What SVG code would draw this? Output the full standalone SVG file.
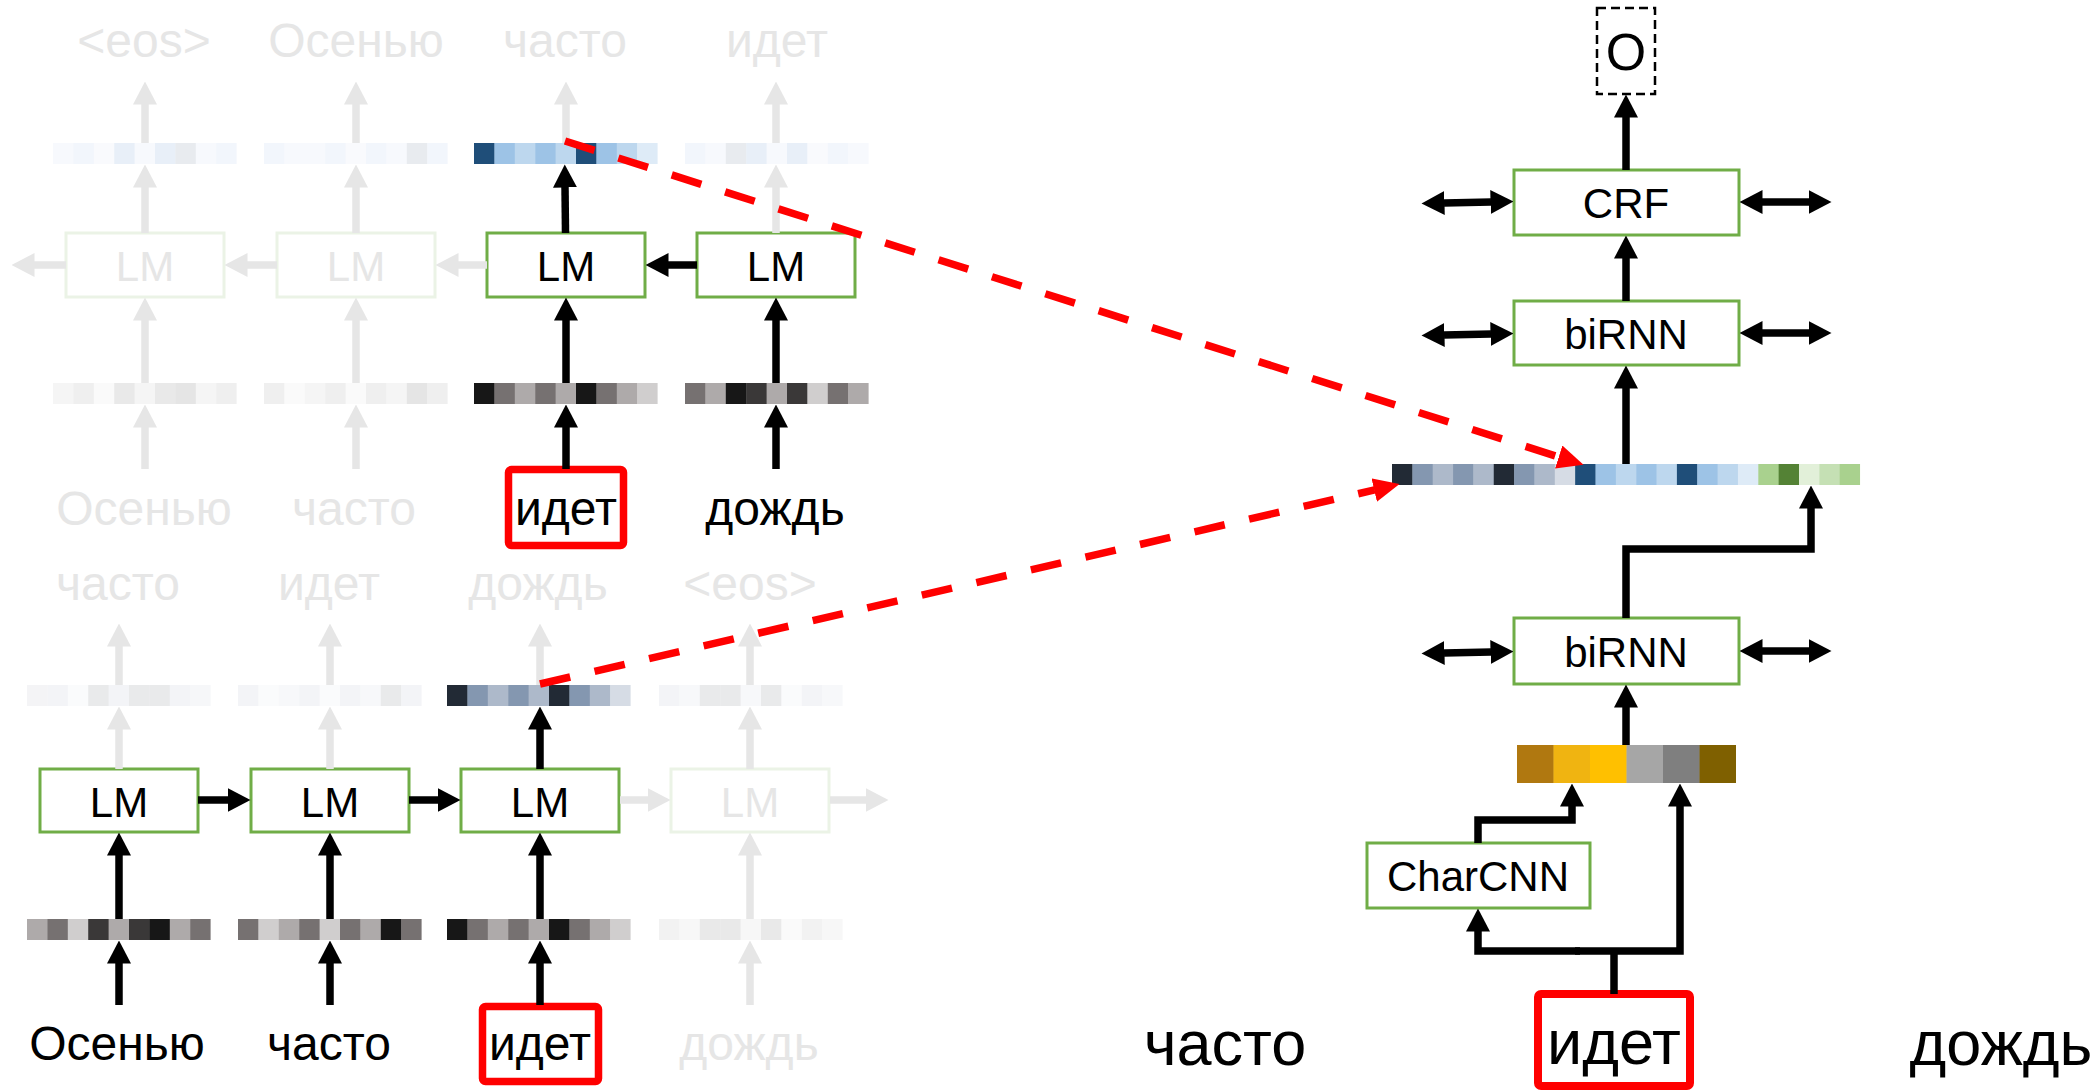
<svg xmlns="http://www.w3.org/2000/svg" width="2100" height="1092" viewBox="0 0 2100 1092">
<style>
text{font-family:"Liberation Sans",Arial,sans-serif;text-anchor:middle}
.lbl{font-size:42px;fill:#000}
.flbl{font-size:42px;fill:#e6e6e6}
.w{font-size:48px;fill:#000}
.fw{font-size:48px;fill:#e6e6e6}
.bw{font-size:63px;fill:#000}
.box{fill:#fff;stroke:#70ad47;stroke-width:3}
.fbox{fill:#fff;stroke:#ebf3e6;stroke-width:3}
.rbox{fill:none;stroke:#ff0000;stroke-width:7.5}
.arr{fill:none;stroke:#000;stroke-width:7.5;marker-end:url(#ah)}
.farr{fill:none;stroke:#e6e6e6;stroke-width:7.5;marker-end:url(#fah)}
.dbl{fill:none;stroke:#000;stroke-width:7.5;marker-start:url(#ah);marker-end:url(#ah)}
.ln{fill:none;stroke:#000;stroke-width:7.5;stroke-linejoin:miter}
.red{fill:none;stroke:#ff0000;stroke-width:7.5;stroke-dasharray:31 25;marker-end:url(#rah)}
</style>
<defs>
<marker id="ah" markerUnits="userSpaceOnUse" markerWidth="23" markerHeight="24" viewBox="0 0 23 24" refX="0.5" refY="12" orient="auto-start-reverse"><path d="M0,0 L23,12 L0,24 z" fill="#000"/></marker>
<marker id="fah" markerUnits="userSpaceOnUse" markerWidth="23" markerHeight="24" viewBox="0 0 23 24" refX="0.5" refY="12" orient="auto"><path d="M0,0 L23,12 L0,24 z" fill="#e6e6e6"/></marker>
<marker id="rah" markerUnits="userSpaceOnUse" markerWidth="26" markerHeight="24" viewBox="0 0 26 24" refX="0.5" refY="12" orient="auto"><path d="M0,0 L26,12 L0,24 z" fill="#ff0000"/></marker>
</defs>
<rect width="2100" height="1092" fill="#fff"/>

<!-- ===== Top section (backward LM) ===== -->
<g id="top-words-out">
<text class="fw" x="144" y="57">&lt;eos&gt;</text>
<text class="fw" x="356" y="57">Осенью</text>
<text class="fw" x="565" y="57">часто</text>
<text class="fw" x="777" y="57">идет</text>
</g>
<g id="top-vec-h1" transform="translate(53,143)">
<rect x="0" width="20.8" height="21" fill="#f7f9fd"/><rect x="20.4" width="20.8" height="21" fill="#f2f6fc"/><rect x="40.8" width="20.8" height="21" fill="#f9fafd"/><rect x="61.2" width="20.8" height="21" fill="#e8eff8"/><rect x="81.6" width="20.8" height="21" fill="#f7f9fd"/><rect x="102" width="20.8" height="21" fill="#e8eff8"/><rect x="122.4" width="20.8" height="21" fill="#e8ebef"/><rect x="142.8" width="20.8" height="21" fill="#f7f9fd"/><rect x="163.2" width="20.4" height="21" fill="#f2f6fc"/>
</g>
<g id="top-vec-h2" transform="translate(264,143)">
<rect x="0" width="20.8" height="21" fill="#f2f6fc"/><rect x="20.4" width="20.8" height="21" fill="#f7f9fd"/><rect x="40.8" width="20.8" height="21" fill="#f7f9fd"/><rect x="61.2" width="20.8" height="21" fill="#f2f6fc"/><rect x="81.6" width="20.8" height="21" fill="#f9fafd"/><rect x="102" width="20.8" height="21" fill="#f2f6fc"/><rect x="122.4" width="20.8" height="21" fill="#f7f9fd"/><rect x="142.8" width="20.8" height="21" fill="#e8ebef"/><rect x="163.2" width="20.4" height="21" fill="#f2f6fc"/>
</g>
<g id="top-vec-h3" transform="translate(474,143)">
<rect x="0" width="20.8" height="21" fill="#1f4e79"/><rect x="20.4" width="20.8" height="21" fill="#9dc3e6"/><rect x="40.8" width="20.8" height="21" fill="#bdd7ee"/><rect x="61.2" width="20.8" height="21" fill="#9dc3e6"/><rect x="81.6" width="20.8" height="21" fill="#bdd7ee"/><rect x="102" width="20.8" height="21" fill="#1f4e79"/><rect x="122.4" width="20.8" height="21" fill="#9dc3e6"/><rect x="142.8" width="20.8" height="21" fill="#bdd7ee"/><rect x="163.2" width="20.4" height="21" fill="#deebf7"/>
</g>
<g id="top-vec-h4" transform="translate(685,143)">
<rect x="0" width="20.8" height="21" fill="#f2f6fc"/><rect x="20.4" width="20.8" height="21" fill="#f7f9fd"/><rect x="40.8" width="20.8" height="21" fill="#e8ebef"/><rect x="61.2" width="20.8" height="21" fill="#e8eff8"/><rect x="81.6" width="20.8" height="21" fill="#f7f9fd"/><rect x="102" width="20.8" height="21" fill="#e8eff8"/><rect x="122.4" width="20.8" height="21" fill="#f9fafd"/><rect x="142.8" width="20.8" height="21" fill="#f2f6fc"/><rect x="163.2" width="20.4" height="21" fill="#f7f9fd"/>
</g>
<g id="top-lm1"><rect class="fbox" x="66" y="233" width="158" height="64"/><text class="flbl" x="145" y="281">LM</text></g>
<g id="top-lm2"><rect class="fbox" x="277" y="233" width="158" height="64"/><text class="flbl" x="356" y="281">LM</text></g>
<g id="top-lm3"><rect class="box" x="487" y="233" width="158" height="64"/><text class="lbl" x="566" y="281">LM</text></g>
<g id="top-lm4"><rect class="box" x="697" y="233" width="158" height="64"/><text class="lbl" x="776" y="281">LM</text></g>
<g id="top-vec-e1" transform="translate(53,383)">
<rect x="0" width="20.8" height="21" fill="#f5f5f5"/><rect x="20.4" width="20.8" height="21" fill="#efefef"/><rect x="40.8" width="20.8" height="21" fill="#fafafa"/><rect x="61.2" width="20.8" height="21" fill="#e9e9e9"/><rect x="81.6" width="20.8" height="21" fill="#f5f5f5"/><rect x="102" width="20.8" height="21" fill="#e9e9e9"/><rect x="122.4" width="20.8" height="21" fill="#e5e5e5"/><rect x="142.8" width="20.8" height="21" fill="#f5f5f5"/><rect x="163.2" width="20.4" height="21" fill="#efefef"/>
</g>
<g id="top-vec-e2" transform="translate(264,383)">
<rect x="0" width="20.8" height="21" fill="#efefef"/><rect x="20.4" width="20.8" height="21" fill="#fafafa"/><rect x="40.8" width="20.8" height="21" fill="#f5f5f5"/><rect x="61.2" width="20.8" height="21" fill="#efefef"/><rect x="81.6" width="20.8" height="21" fill="#fafafa"/><rect x="102" width="20.8" height="21" fill="#efefef"/><rect x="122.4" width="20.8" height="21" fill="#f5f5f5"/><rect x="142.8" width="20.8" height="21" fill="#e5e5e5"/><rect x="163.2" width="20.4" height="21" fill="#efefef"/>
</g>
<g id="top-vec-e3" transform="translate(474,383)">
<rect x="0" width="20.8" height="21" fill="#171717"/><rect x="20.4" width="20.8" height="21" fill="#767171"/><rect x="40.8" width="20.8" height="21" fill="#aeaaaa"/><rect x="61.2" width="20.8" height="21" fill="#767171"/><rect x="81.6" width="20.8" height="21" fill="#aeaaaa"/><rect x="102" width="20.8" height="21" fill="#171717"/><rect x="122.4" width="20.8" height="21" fill="#767171"/><rect x="142.8" width="20.8" height="21" fill="#aeaaaa"/><rect x="163.2" width="20.4" height="21" fill="#d0cece"/>
</g>
<g id="top-vec-e4" transform="translate(685,383)">
<rect x="0" width="20.8" height="21" fill="#767171"/><rect x="20.4" width="20.8" height="21" fill="#aeaaaa"/><rect x="40.8" width="20.8" height="21" fill="#171717"/><rect x="61.2" width="20.8" height="21" fill="#3a3838"/><rect x="81.6" width="20.8" height="21" fill="#aeaaaa"/><rect x="102" width="20.8" height="21" fill="#3a3838"/><rect x="122.4" width="20.8" height="21" fill="#d0cece"/><rect x="142.8" width="20.8" height="21" fill="#767171"/><rect x="163.2" width="20.4" height="21" fill="#aeaaaa"/>
</g>
<g id="top-words-in">
<text class="fw" x="144" y="525">Осенью</text>
<text class="fw" x="354" y="525">часто</text>
<rect class="rbox" x="508.5" y="469.5" width="115" height="76" rx="3"/>
<text class="w" x="566" y="525">идет</text>
<text class="w" x="775" y="525">дождь</text>
</g>

<!-- ===== Bottom section (forward LM) ===== -->
<g id="bot-words-out">
<text class="fw" x="118" y="600">часто</text>
<text class="fw" x="329" y="600">идет</text>
<text class="fw" x="538" y="600">дождь</text>
<text class="fw" x="750" y="600">&lt;eos&gt;</text>
</g>
<g id="bot-vec-h1" transform="translate(27,685)">
<rect x="0" width="20.8" height="21" fill="#f4f4f6"/><rect x="20.4" width="20.8" height="21" fill="#f3f4f7"/><rect x="40.8" width="20.8" height="21" fill="#fafbfc"/><rect x="61.2" width="20.8" height="21" fill="#e9eaeb"/><rect x="81.6" width="20.8" height="21" fill="#f3f4f7"/><rect x="102" width="20.8" height="21" fill="#e9eaeb"/><rect x="122.4" width="20.8" height="21" fill="#e9eaeb"/><rect x="142.8" width="20.8" height="21" fill="#f3f4f7"/><rect x="163.2" width="20.4" height="21" fill="#f6f7f9"/>
</g>
<g id="bot-vec-h2" transform="translate(238,685)">
<rect x="0" width="20.8" height="21" fill="#f3f4f7"/><rect x="20.4" width="20.8" height="21" fill="#fafbfc"/><rect x="40.8" width="20.8" height="21" fill="#f7f8fa"/><rect x="61.2" width="20.8" height="21" fill="#f3f4f7"/><rect x="81.6" width="20.8" height="21" fill="#fafbfc"/><rect x="102" width="20.8" height="21" fill="#f3f4f7"/><rect x="122.4" width="20.8" height="21" fill="#f7f8fa"/><rect x="142.8" width="20.8" height="21" fill="#e9eaeb"/><rect x="163.2" width="20.4" height="21" fill="#f3f4f7"/>
</g>
<g id="bot-vec-h3" transform="translate(447,685)">
<rect x="0" width="20.8" height="21" fill="#222a35"/><rect x="20.4" width="20.8" height="21" fill="#8497b0"/><rect x="40.8" width="20.8" height="21" fill="#adb9ca"/><rect x="61.2" width="20.8" height="21" fill="#8497b0"/><rect x="81.6" width="20.8" height="21" fill="#adb9ca"/><rect x="102" width="20.8" height="21" fill="#222a35"/><rect x="122.4" width="20.8" height="21" fill="#8497b0"/><rect x="142.8" width="20.8" height="21" fill="#adb9ca"/><rect x="163.2" width="20.4" height="21" fill="#d6dce5"/>
</g>
<g id="bot-vec-h4" transform="translate(659,685)">
<rect x="0" width="20.8" height="21" fill="#f3f4f7"/><rect x="20.4" width="20.8" height="21" fill="#f7f8fa"/><rect x="40.8" width="20.8" height="21" fill="#e9eaeb"/><rect x="61.2" width="20.8" height="21" fill="#e9eaeb"/><rect x="81.6" width="20.8" height="21" fill="#f7f8fa"/><rect x="102" width="20.8" height="21" fill="#e9eaeb"/><rect x="122.4" width="20.8" height="21" fill="#fafbfc"/><rect x="142.8" width="20.8" height="21" fill="#f3f4f7"/><rect x="163.2" width="20.4" height="21" fill="#f7f8fa"/>
</g>
<g id="bot-lm1"><rect class="box" x="40" y="769" width="158" height="63"/><text class="lbl" x="119" y="817">LM</text></g>
<g id="bot-lm2"><rect class="box" x="251" y="769" width="158" height="63"/><text class="lbl" x="330" y="817">LM</text></g>
<g id="bot-lm3"><rect class="box" x="461" y="769" width="158" height="63"/><text class="lbl" x="540" y="817">LM</text></g>
<g id="bot-lm4"><rect class="fbox" x="671" y="769" width="158" height="63"/><text class="flbl" x="750" y="817">LM</text></g>
<g id="bot-vec-e1" transform="translate(27,919)">
<rect x="0" width="20.8" height="21" fill="#aeaaaa"/><rect x="20.4" width="20.8" height="21" fill="#767171"/><rect x="40.8" width="20.8" height="21" fill="#d0cece"/><rect x="61.2" width="20.8" height="21" fill="#3a3838"/><rect x="81.6" width="20.8" height="21" fill="#aeaaaa"/><rect x="102" width="20.8" height="21" fill="#3a3838"/><rect x="122.4" width="20.8" height="21" fill="#171717"/><rect x="142.8" width="20.8" height="21" fill="#aeaaaa"/><rect x="163.2" width="20.4" height="21" fill="#767171"/>
</g>
<g id="bot-vec-e2" transform="translate(238,919)">
<rect x="0" width="20.8" height="21" fill="#767171"/><rect x="20.4" width="20.8" height="21" fill="#d0cece"/><rect x="40.8" width="20.8" height="21" fill="#aeaaaa"/><rect x="61.2" width="20.8" height="21" fill="#767171"/><rect x="81.6" width="20.8" height="21" fill="#d0cece"/><rect x="102" width="20.8" height="21" fill="#767171"/><rect x="122.4" width="20.8" height="21" fill="#aeaaaa"/><rect x="142.8" width="20.8" height="21" fill="#171717"/><rect x="163.2" width="20.4" height="21" fill="#767171"/>
</g>
<g id="bot-vec-e3" transform="translate(447,919)">
<rect x="0" width="20.8" height="21" fill="#171717"/><rect x="20.4" width="20.8" height="21" fill="#767171"/><rect x="40.8" width="20.8" height="21" fill="#aeaaaa"/><rect x="61.2" width="20.8" height="21" fill="#767171"/><rect x="81.6" width="20.8" height="21" fill="#aeaaaa"/><rect x="102" width="20.8" height="21" fill="#171717"/><rect x="122.4" width="20.8" height="21" fill="#767171"/><rect x="142.8" width="20.8" height="21" fill="#aeaaaa"/><rect x="163.2" width="20.4" height="21" fill="#d0cece"/>
</g>
<g id="bot-vec-e4" transform="translate(659,919)">
<rect x="0" width="20.8" height="21" fill="#f2f2f2"/><rect x="20.4" width="20.8" height="21" fill="#f7f7f7"/><rect x="40.8" width="20.8" height="21" fill="#e9e9e9"/><rect x="61.2" width="20.8" height="21" fill="#e9e9e9"/><rect x="81.6" width="20.8" height="21" fill="#f7f7f7"/><rect x="102" width="20.8" height="21" fill="#e9e9e9"/><rect x="122.4" width="20.8" height="21" fill="#fafafa"/><rect x="142.8" width="20.8" height="21" fill="#f2f2f2"/><rect x="163.2" width="20.4" height="21" fill="#f7f7f7"/>
</g>
<g id="bot-words-in">
<text class="w" x="117" y="1060">Осенью</text>
<text class="w" x="329" y="1060">часто</text>
<rect class="rbox" x="482.5" y="1006.5" width="116" height="75" rx="3"/>
<text class="w" x="540" y="1060">идет</text>
<text class="fw" x="749" y="1060">дождь</text>
</g>

<!-- ===== Right section (tagger) ===== -->
<g id="out-O"><rect x="1597" y="8" width="58" height="86" fill="none" stroke="#000" stroke-width="2.5" stroke-dasharray="9 5"/><text x="1626" y="70" style="font-size:52px">O</text></g>
<g id="crf"><rect class="box" x="1514" y="170" width="225" height="65"/><text class="lbl" x="1626" y="218">CRF</text></g>
<g id="birnn2"><rect class="box" x="1514" y="301" width="225" height="64"/><text class="lbl" x="1626" y="349">biRNN</text></g>
<g id="concat-vec" transform="translate(1392,464)">
<rect x="0" width="20.75" height="21" fill="#222a35"/><rect x="20.35" width="20.75" height="21" fill="#8497b0"/><rect x="40.7" width="20.75" height="21" fill="#adb9ca"/><rect x="61.05" width="20.75" height="21" fill="#8497b0"/><rect x="81.4" width="20.75" height="21" fill="#adb9ca"/><rect x="101.75" width="20.75" height="21" fill="#222a35"/><rect x="122.1" width="20.75" height="21" fill="#8497b0"/><rect x="142.45" width="20.75" height="21" fill="#adb9ca"/><rect x="162.8" width="20.75" height="21" fill="#d6dce5"/><rect x="183.15" width="20.75" height="21" fill="#1f4e79"/><rect x="203.5" width="20.75" height="21" fill="#9dc3e6"/><rect x="223.85" width="20.75" height="21" fill="#bdd7ee"/><rect x="244.2" width="20.75" height="21" fill="#9dc3e6"/><rect x="264.55" width="20.75" height="21" fill="#bdd7ee"/><rect x="284.9" width="20.75" height="21" fill="#1f4e79"/><rect x="305.25" width="20.75" height="21" fill="#9dc3e6"/><rect x="325.6" width="20.75" height="21" fill="#bdd7ee"/><rect x="345.95" width="20.75" height="21" fill="#deebf7"/><rect x="366.3" width="20.75" height="21" fill="#a9d18e"/><rect x="386.65" width="20.75" height="21" fill="#548235"/><rect x="407" width="20.75" height="21" fill="#e2f0d9"/><rect x="427.35" width="20.75" height="21" fill="#c5e0b4"/><rect x="447.7" width="20.35" height="21" fill="#a9d18e"/>
</g>
<g id="birnn1"><rect class="box" x="1514" y="618" width="225" height="66"/><text class="lbl" x="1626" y="667">biRNN</text></g>
<g id="word-vec" transform="translate(1517,745)">
<rect x="0" width="36.9" height="38" fill="#b07810"/><rect x="36.5" width="36.9" height="38" fill="#f0b411"/><rect x="73" width="36.9" height="38" fill="#ffc000"/><rect x="109.5" width="36.9" height="38" fill="#a6a6a6"/><rect x="146" width="36.9" height="38" fill="#7f7f7f"/><rect x="182.5" width="36.5" height="38" fill="#7f6000"/>
</g>
<g id="charcnn"><rect class="box" x="1367" y="843" width="223" height="65"/><text class="lbl" x="1478" y="891">CharCNN</text></g>
<g id="right-words">
<text class="bw" x="1225" y="1065">часто</text>
<rect x="1538" y="994" width="152" height="92" rx="3" fill="none" stroke="#ff0000" stroke-width="8"/>
<text class="bw" x="1614" y="1064">идет</text>
<text class="bw" x="2001" y="1065">дождь</text>
</g>

<!-- ===== Connectors ===== -->
<g id="connectors">
<!-- top section verticals -->
<line class="farr" x1="145" y1="143" x2="145" y2="104"/>
<line class="farr" x1="356" y1="143" x2="356" y2="104"/>
<line class="farr" x1="566" y1="143" x2="566" y2="104"/>
<line class="farr" x1="776" y1="143" x2="776" y2="104"/>
<line class="farr" x1="145" y1="233" x2="145" y2="187"/>
<line class="farr" x1="356" y1="233" x2="356" y2="187"/>
<line class="arr" x1="565.5" y1="233" x2="565" y2="187"/>
<line class="farr" x1="776" y1="233" x2="776" y2="187"/>
<line class="farr" x1="145" y1="383" x2="145" y2="320"/>
<line class="farr" x1="356" y1="383" x2="356" y2="320"/>
<line class="arr" x1="566" y1="383" x2="566" y2="320"/>
<line class="arr" x1="776" y1="383" x2="776" y2="320"/>
<line class="farr" x1="145" y1="469" x2="145" y2="427"/>
<line class="farr" x1="356" y1="469" x2="356" y2="427"/>
<line class="arr" x1="566" y1="469" x2="566" y2="427"/>
<line class="arr" x1="776" y1="469" x2="776" y2="427"/>
<!-- top section horizontals -->
<line class="arr" x1="697" y1="265" x2="668" y2="265"/>
<line class="farr" x1="487" y1="265" x2="458" y2="265"/>
<line class="farr" x1="277" y1="265" x2="247" y2="265"/>
<line class="farr" x1="66" y1="265" x2="34" y2="265"/>
<!-- bottom section verticals -->
<line class="farr" x1="119" y1="685" x2="119" y2="646"/>
<line class="farr" x1="330" y1="685" x2="330" y2="646"/>
<line class="farr" x1="540" y1="685" x2="540" y2="646"/>
<line class="farr" x1="750" y1="685" x2="750" y2="646"/>
<line class="farr" x1="119" y1="769" x2="119" y2="729"/>
<line class="farr" x1="330" y1="769" x2="330" y2="729"/>
<line class="arr" x1="540" y1="769" x2="540" y2="729"/>
<line class="farr" x1="750" y1="769" x2="750" y2="729"/>
<line class="arr" x1="119" y1="919" x2="119" y2="855"/>
<line class="arr" x1="330" y1="919" x2="330" y2="855"/>
<line class="arr" x1="540" y1="919" x2="540" y2="855"/>
<line class="farr" x1="750" y1="919" x2="750" y2="855"/>
<line class="arr" x1="119" y1="1005" x2="119" y2="963"/>
<line class="arr" x1="330" y1="1005" x2="330" y2="963"/>
<line class="arr" x1="540" y1="1005" x2="540" y2="963"/>
<line class="farr" x1="750" y1="1005" x2="750" y2="963"/>
<!-- bottom section horizontals -->
<line class="arr" x1="198" y1="800" x2="228" y2="800"/>
<line class="arr" x1="409" y1="800" x2="438" y2="800"/>
<line class="farr" x1="620" y1="800" x2="648" y2="800"/>
<line class="farr" x1="830" y1="800" x2="866" y2="800"/>
<!-- right section -->
<line class="arr" x1="1626" y1="170" x2="1626" y2="117"/>
<line class="arr" x1="1626" y1="301" x2="1626" y2="258"/>
<line class="arr" x1="1626" y1="464" x2="1626" y2="388"/>
<line class="dbl" x1="1444" y1="203" x2="1491" y2="202"/>
<line class="dbl" x1="1762" y1="202" x2="1809" y2="202"/>
<line class="dbl" x1="1444" y1="335" x2="1491" y2="334"/>
<line class="dbl" x1="1762" y1="333" x2="1809" y2="333"/>
<line class="dbl" x1="1444" y1="653" x2="1491" y2="652"/>
<line class="dbl" x1="1762" y1="651" x2="1809" y2="651"/>
<path class="arr" d="M1626,618 V549 H1811 V508"/>
<line class="arr" x1="1626" y1="745" x2="1626" y2="707"/>
<path class="arr" d="M1478,843 V820 H1572 V806"/>
<path class="ln" d="M1614,994 V951"/>
<path class="arr" d="M1580,951 H1478 V931"/>
<path class="arr" d="M1575,951 H1680 V806"/>
<!-- red dashed connectors -->
<line class="red" x1="565" y1="141" x2="1559.2" y2="457.1"/>
<line class="red" x1="540" y1="684" x2="1374.7" y2="489.9"/>
</g>
</svg>
